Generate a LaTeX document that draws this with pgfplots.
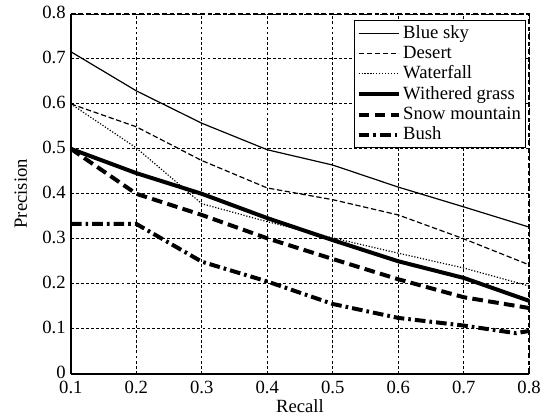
\documentclass[border=0pt]{standalone}
\usepackage{fontspec}
\setmainfont{Liberation Serif}
\usepackage{pgfplots}
\pgfplotsset{compat=1.18}
\begin{document}
\fontsize{14pt}{16pt}\selectfont
\begin{tikzpicture}
\begin{axis}[width=344pt,height=270pt,scale only axis,
  xmin=0.1,xmax=0.8,ymin=0,ymax=0.8,
  xtick={0.1,0.2,...,0.8},ytick={0,0.1,...,0.8},
  xticklabels={0.1,0.2,0.3,0.4,0.5,0.6,0.7,0.8},
  yticklabels={0,0.1,0.2,0.3,0.4,0.5,0.6,0.7,0.8},
  /pgf/number format/assume math mode=true,
  axis lines=left,axis line style={-,line width=1.5pt},
  major tick length=0pt,
  xmajorgrids,ymajorgrids,grid style={black,line width=0.7pt,dash pattern=on 2.2pt off 1.6pt},
  xlabel={Recall},ylabel={Precision},
  xlabel style={yshift=5pt},ylabel style={yshift=2pt},
  xticklabel style={yshift=-0.5pt},yticklabel style={xshift=1pt,yshift=1pt},
  tick label style={font=\fontsize{14pt}{16pt}\selectfont},
  label style={font=\fontsize{14pt}{16pt}\selectfont},
  legend style={at={(rel axis cs:0.9935,0.983)},anchor=north east,draw=black,line width=1pt,
    font=\fontsize{14pt}{15pt}\selectfont,row sep=-0.4pt,inner sep=1.5pt},
  legend cell align=left,
  legend image code/.code={\draw[#1] (0pt,0pt) -- (30pt,0pt);},
  clip=false]
\addplot[black,line width=0.9pt] coordinates {(0.1,0.716)(0.2,0.629)(0.3,0.557)(0.4,0.498)(0.5,0.464)(0.6,0.415)(0.7,0.371)(0.8,0.326)};
\addlegendentry{Blue sky}
\addplot[black,line width=0.9pt,dash pattern=on 4pt off 2pt] coordinates {(0.1,0.6)(0.2,0.549)(0.3,0.474)(0.4,0.413)(0.5,0.387)(0.6,0.353)(0.7,0.300)(0.8,0.242)};
\addlegendentry{Desert}
\addplot[black,line width=0.9pt,dash pattern=on 0.9pt off 1.3pt] coordinates {(0.1,0.6)(0.2,0.502)(0.3,0.378)(0.4,0.338)(0.5,0.302)(0.6,0.268)(0.7,0.235)(0.8,0.195)};
\addlegendentry{Waterfall}
\addplot[black,line width=3pt] coordinates {(0.1,0.5)(0.2,0.446)(0.3,0.400)(0.4,0.346)(0.5,0.297)(0.6,0.250)(0.7,0.213)(0.8,0.162)};
\addlegendentry{Withered grass}
\addplot[black,line width=3pt,dash pattern=on 8pt off 4pt] coordinates {(0.1,0.5)(0.2,0.400)(0.3,0.353)(0.4,0.301)(0.5,0.255)(0.6,0.210)(0.7,0.170)(0.8,0.146)};
\addlegendentry{Snow mountain}
\addplot[black,line width=3pt,dash pattern=on 8pt off 3pt on 2pt off 3pt] coordinates {(0.1,0.333)(0.2,0.333)(0.3,0.249)(0.4,0.205)(0.5,0.155)(0.6,0.124)(0.7,0.107)(0.78,0.090)(0.8,0.095)};
\addlegendentry{Bush}
\draw[black,line width=1.5pt,dash pattern=on 3.5pt off 2.2pt] (rel axis cs:0,1) -- (rel axis cs:1,1) -- (rel axis cs:1,0);
\path (rel axis cs:-0.1547,-0.1139) rectangle (rel axis cs:1.037,1.0389);
\end{axis}
\end{tikzpicture}
\end{document}
